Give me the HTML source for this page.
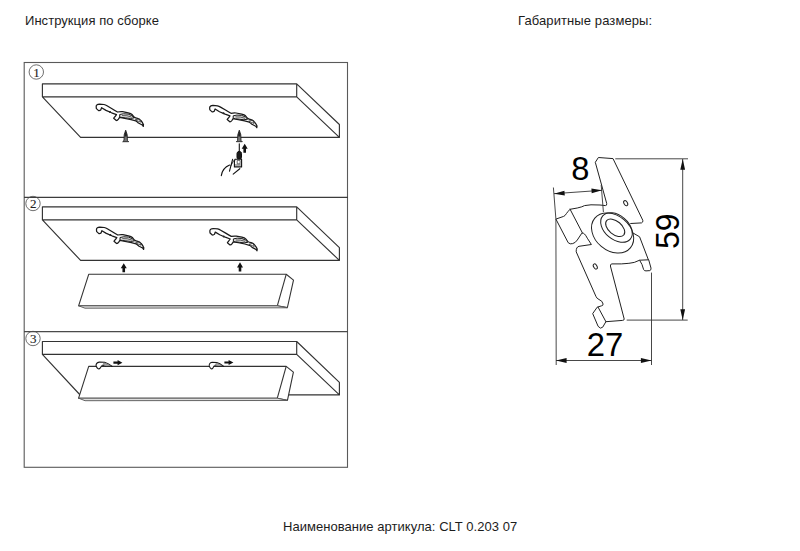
<!DOCTYPE html>
<html><head><meta charset="utf-8">
<style>
html,body{margin:0;padding:0;background:#fff;width:800px;height:551px;overflow:hidden}
body{position:relative;font-family:"Liberation Sans",sans-serif;color:#1c1c1c}
.t{position:absolute;font-size:13px;line-height:15px;white-space:nowrap}
svg{position:absolute;left:0;top:0}
</style></head><body>
<div class="t" style="left:25px;top:13px;letter-spacing:0.05px">Инструкция по сборке</div>
<div class="t" style="left:518px;top:13px;letter-spacing:0.1px">Габаритные размеры:</div>
<div class="t" style="left:283px;top:519px;letter-spacing:0.04px">Наименование артикула: CLT 0.203 07</div>
<svg width="800" height="551" viewBox="0 0 800 551">
<g fill="none" stroke="#5a5a5a" stroke-width="1.1">
  <rect x="24.2" y="62.5" width="323.3" height="404.8"/>
  <line x1="24" y1="197.4" x2="348" y2="197.4" stroke="#3c3c3c" stroke-width="1.1"/>
  <line x1="24" y1="331.6" x2="348" y2="331.6" stroke="#4a4a4a" stroke-width="1.1"/>
</g>
<!-- circled numbers -->
<g fill="none" stroke="#4a4a4a" stroke-width="0.8">
  <circle cx="36.3" cy="72" r="7.2"/>
  <circle cx="33" cy="203.5" r="7.2"/>
  <circle cx="33" cy="338.5" r="7.2"/>
</g>
<g font-family="Liberation Serif" font-size="13" fill="#222" stroke="#222" stroke-width="0.12" text-anchor="middle">
  <text x="36.5" y="76.6">1</text>
  <text x="33.2" y="208">2</text>
  <text x="33.2" y="343">3</text>
</g>
<!-- panels -->
<g fill="none" stroke="#333" stroke-width="1.15" stroke-linejoin="round">
  <path d="M42.4,96.8 V83.9 H296.7 L339.4,124.5 V137.4 H80.6 L42.4,96.8 H296.7 V83.9 M296.7,96.8 L339.4,137.4"/>
  <path d="M42.4,219.9 V206.9 H296.7 L339.4,247.6 V260.4 H80.6 L42.4,219.9 H296.7 V206.9 M296.7,219.9 L339.4,260.4"/>
  <path d="M42.4,354.4 V341.5 H296.7 L339.4,382.3 V394.9 H280 M82,397 L42.4,354.4 H296.7 V341.5 M296.7,354.4 L339.4,394.9"/>
</g>
<g fill="#fff" stroke="#333" stroke-width="1.1" stroke-linejoin="round">
  <path d="M88.7,274.3 H286.2 L293.5,280.1 L287.4,307.5 L277.3,305.8 H78.6 Z"/>
  <path d="M286.2,274.3 L277.3,305.8" fill="none"/>
  <path d="M78.6,305.8 L85,308.2 L287.4,307.8 L277.3,305.8 Z" fill="#dedede" stroke="#555" stroke-width="0.9"/>
  <path d="M88.7,366.4 H286.2 L293.4,372.1 L287.5,400.2 L277.3,398.2 H78.6 Z"/>
  <path d="M286.2,366.4 L277.3,398.2" fill="none"/>
  <path d="M78.6,398.2 L85,400.7 L287.5,400.5 L277.3,398.2 Z" fill="#dedede" stroke="#555" stroke-width="0.9"/>
</g>
<!-- clips -->
<defs>
<g id="clip">
  <path fill="#fff" stroke="#1a1a1a" stroke-width="1.25" stroke-linejoin="round" d="M97.2,104.7 Q97.8,104.1 99.5,104.1 L104,104.5 Q105.5,104.9 107,105.8 L112,108.7 Q115,110.6 117.5,112 Q120,111.5 122.6,111.7 L128.2,112.8 Q131,113.5 132,114.5 L134.1,117.1 Q135.5,118 137.5,118.3 Q139.8,119 140.9,120.5 Q142.6,122.5 143.5,124.7 L143.3,126.4 Q142.6,125 141.8,124.7 L138.4,123 Q137,121.5 135.8,120.9 L131.1,119.6 L124.8,118.3 L119.6,117.4 L118.4,119.2 Q117.4,120.6 116.3,120.5 L113.7,118.3 Q114.2,117.3 114.9,116.8 L116.5,114.6 L111.6,112.8 L106,110.4 L101.6,107.7 L100.7,110 Q99.8,110.8 98.6,110.6 L96.4,108.6 Q96,107 96.3,105.7 Z"/>
  <path fill="#ddd" stroke="#1a1a1a" stroke-width="1" d="M119.7,114.5 Q123,113.2 128.2,114.1 Q132.5,115.3 134.1,117.9 Q131,119 125.6,117.9 Q121.5,117.4 119.7,117.1 Z"/>
  <path fill="none" stroke="#333" stroke-width="0.8" d="M122,115.6 Q127,115.2 131.5,117 M135.2,119.8 L139.2,118.9 L140.6,122.2 Z"/>
  <circle cx="110" cy="112" r="1" fill="#222"/>
</g>
<g id="screw">
  <path fill="#777" stroke="#1a1a1a" stroke-width="0.85" stroke-linejoin="round" d="M0,0.2 L1.5,4.8 L1.7,10.4 L3,11.7 H-3 L-1.7,10.4 L-1.5,4.8 Z"/>
  <path fill="#222" d="M0,0.4 L1.2,4.5 L1,6.5 H-1 L-1.2,4.5 Z"/>
</g>
<g id="uparrow"><path fill="#111" d="M0,-0.3 L3,4.8 H1.3 V8.8 H-1.3 V4.8 H-3 Z"/></g>
<g id="rarrow"><path fill="#111" d="M0,-1.1 H4.2 V-2.6 L9,0 L4.2,2.6 V1.1 H0 Z"/></g>
<g id="hook">
  <path fill="#fff" stroke="#1a1a1a" stroke-width="1.1" stroke-linejoin="round" d="M-16.2,-0.3 C-16.4,-2.5 -15.5,-3.9 -13.1,-4.3 L-7.7,-4.1 C-5.5,-3.6 -2.5,-1.8 0,0 H-7 C-8,-0.7 -9.5,-1 -10.8,-0.4 L-12.2,1.8 C-12.8,2.6 -14,2.6 -14.8,2 Z"/>
  <path fill="#aaa" stroke="#555" stroke-width="0.5" d="M-8.3,-3.4 C-5.8,-2.8 -3.4,-1.4 -1.4,-0.3 H-6.3 C-7.2,-1 -8.2,-1.5 -9.6,-1.9 Z"/>
</g>
</defs>
<use href="#clip"/>
<use href="#clip" transform="translate(113.5,1.3)"/>
<use href="#clip" transform="translate(0.3,123)"/>
<use href="#clip" transform="translate(113.7,124.4)"/>
<use href="#screw" transform="translate(125.7,130)"/>
<use href="#screw" transform="translate(239.3,130)"/>
<use href="#uparrow" transform="translate(123.75,263.5)"/>
<use href="#uparrow" transform="translate(240,262.6)"/>
<use href="#rarrow" transform="translate(113.4,362.7)"/>
<use href="#rarrow" transform="translate(224.4,362.5)"/>
<use href="#hook" transform="translate(112.3,366.4)"/>
<use href="#hook" transform="translate(223.8,366.4) scale(0.9,0.96)"/>
<!-- screwdriver + hand -->
<g stroke="#111" fill="none" stroke-width="1" stroke-linecap="round" stroke-linejoin="round">
  <line x1="239.3" y1="143.8" x2="239.3" y2="152" stroke-width="1.1"/>
  <rect x="237" y="151.6" width="4.5" height="7.6" rx="1.8" fill="#1a1a1a"/>
  <path d="M234.4,161.5 L235,159.2 H241.6 V166.9 H234.4 Z" fill="#fff" stroke-width="1.1"/>
  <rect x="237.6" y="160.4" width="2.5" height="3.4" fill="#fff" stroke-width="0.6"/>
  <path d="M235,165 H240.5" stroke-width="0.7"/>
  <path d="M232.6,159.3 L229.5,171.2" stroke-width="1.1"/>
  <path d="M233.8,160.5 L231,165.5" stroke-width="0.8"/>
  <path d="M221.3,175.6 Q222.5,168 229.6,165.1" stroke-width="1.1"/>
  <path d="M233.2,174.1 L239.8,168.7" stroke-width="1.1"/>
</g>
<use href="#uparrow" transform="translate(244.7,144)"/>
<!-- bracket drawing -->
<g fill="none" stroke="#222" stroke-width="1" stroke-linejoin="round" stroke-linecap="round">
  <path d="M630.7,223.5 L641.5,222.9 Q643.3,222.3 642.8,220.3 L613,158.6 L598.4,157.5 L595.3,162.3 L606.7,203.4 Q607,205.8 605.4,205.6 L600,205 L591,204.8 L584.5,205.6 L581.8,206.8 L577.3,208 L570,209.3 Q567.5,212 566.4,213.6 Q565,216 563.6,216.4 L555.9,219.1 L568.2,242.7 Q570,244.5 572.7,243.6 Q575.5,242.8 577.3,240 L581.8,233.2 Q583.5,232.8 584.5,234 Q586,235.5 587.3,238.2 L591.4,244.5 L579,246.3 Q576,247 576.2,251.8 L595.9,296.3 Q596.8,298.6 599,299.5 Q602.5,300.8 603.1,304 Q603,306 601.3,305.9 L597.2,307.2 L592.7,313.6 L598.1,326.3 Q600.4,329.5 602.7,327.2 L605.9,321.7 L622.6,320.4 Q624.6,320 624.2,319 L610.4,266 Q610.3,264 611.9,263.9 L621.3,263.9 Q630,263.5 634.3,262.4 L639.6,260.2 L642,264.5 L643.6,269.5 Q644.2,271 646,270.9 L649.8,270.6 Q651.2,270.3 651,268.1 L648.7,259.8 L639.8,260.2 M648.3,259.6 L639.6,236.8 L632,232.4"/>
  <path d="M570,209.1 L582.3,232.7 M598.1,307.2 L605.9,321.7"/>
  <ellipse cx="612.6" cy="233" rx="23.2" ry="17.6" transform="rotate(40 612.6 233)"/>
  <ellipse cx="616.5" cy="227.5" rx="18" ry="12" transform="rotate(40 616.5 227.5)"/>
  <ellipse cx="615.2" cy="227.8" rx="11.2" ry="6.6" transform="rotate(40 615.2 227.8)"/>
  <ellipse cx="625.7" cy="203.2" rx="1.7" ry="2.8" transform="rotate(-30 625.7 203.2)"/>
  <ellipse cx="595.3" cy="266.5" rx="1.7" ry="2.8" transform="rotate(-30 595.3 266.5)"/>
</g>
<!-- dimensions -->
<g fill="none" stroke="#333" stroke-width="0.9">
  <path d="M615.3,158.8 H688 M626.7,320.1 H687.7 M553.4,187.5 L555.9,219 L556.2,365 M651.5,272.6 V365 M601.2,185 L603.4,212"/>
  <path d="M682.7,159 V320 M556,360.5 H651.5 M554,193.7 L601.9,190.3"/>
</g>
<g fill="#111">
  <path d="M682.7,159 L685.1,169.8 H680.3 Z M682.7,320 L685.1,309.2 H680.3 Z"/>
  <path d="M556,360.5 L566.6,358 V363 Z M651.5,360.5 L640.9,358 V363 Z"/>
  <path d="M554,193.7 L564.4,190.8 L564.8,195.6 Z M601.9,190.3 L591.4,188.4 L591.7,193.2 Z"/>
</g>
<g font-family="Liberation Sans" font-size="32" fill="#000">
  <text transform="translate(571.2,179.9) scale(1.02,1.065)">8</text>
  <text transform="translate(586.8,356) scale(1.025,1.06)">27</text>
  <text transform="translate(679.4,249) rotate(-90) scale(1,1.065)">59</text>
</g>
</svg>
</body></html>
